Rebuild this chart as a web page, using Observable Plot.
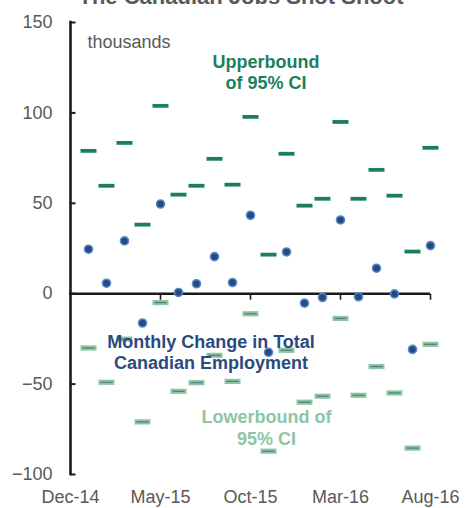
<!DOCTYPE html>
<html>
<head>
<meta charset="utf-8">
<script src="https://cdn.jsdelivr.net/npm/d3@7"></script>
<script src="https://cdn.jsdelivr.net/npm/@observablehq/plot@0.6"></script>
<style>
  html, body { margin: 0; padding: 0; background: #fff; }
  #chart { width: 465px; height: 508px; overflow: hidden; }
</style>
</head>
<body>
<div id="chart"></div>
<script>
// ---- data ----
const title = "The Canadian Jobs Shot Shoot";
const startLabel = "Dec-14";
const months = ["Jan-15","Feb-15","Mar-15","Apr-15","May-15","Jun-15","Jul-15","Aug-15","Sep-15","Oct-15","Nov-15","Dec-15",
                "Jan-16","Feb-16","Mar-16","Apr-16","May-16","Jun-16","Jul-16","Aug-16"];
const change = [24.6, 5.8, 29.2, -16.2, 49.6, 0.7, 5.5, 20.5, 6.2, 43.4, -32.4, 23.1, -5.2, -2.1, 40.8, -1.7, 14.1, -0.1, -30.8, 26.6];
const upper  = [79.0, 59.7, 83.4, 38.2, 103.9, 54.8, 59.7, 74.6, 60.3, 97.8, 21.6, 77.4, 48.7, 52.5, 95.0, 52.5, 68.5, 54.2, 23.3, 80.7];
const lower  = [-30.0, -49.0, -25.1, -70.9, -4.9, -54.0, -49.2, -34.1, -48.5, -11.1, -87.1, -31.3, -60.0, -56.7, -13.7, -56.2, -40.3, -54.9, -85.4, -28.0];
const xTickLabels = ["Dec-14","May-15","Oct-15","Mar-16","Aug-16"];
const yTicks = [-100, -50, 0, 50, 100, 150];
const unitLabel = "thousands";
const upperLabel = "Upperbound\nof 95% CI";
const changeLabel = "Monthly Change in Total\nCanadian Employment";
const lowerLabel = "Lowerbound of\n95% CI";

// ---- build ----
const xDomain = [startLabel].concat(months);
const rows = months.map((m, i) => ({month: m, change: change[i], upper: upper[i], lower: lower[i]}));

const upperDash = {draw(c) { c.rect(-8, -1.9, 16, 3.8); }};
const lowerDashOuter = {draw(c) { c.rect(-8, -2.6, 16, 5.2); }};
const lowerDashInner = {draw(c) { c.rect(-6, -0.6, 12, 1.2); }};
const tickRight = {draw(c) { c.moveTo(0, 0); c.lineTo(5, 0); }};
const tickDown = {draw(c) { c.moveTo(0, 0); c.lineTo(0, 6); }};

const font = "'Liberation Sans', Arial, sans-serif";

const chart = Plot.plot({
  width: 465,
  height: 508,
  marginLeft: 69,
  marginRight: 35,
  marginTop: 22,
  marginBottom: 34,
  style: {fontFamily: font, fontSize: "18px", color: "#595959", background: "white", overflow: "visible"},
  x: {type: "point", domain: xDomain, padding: 0},
  y: {domain: [yTicks[0], yTicks[yTicks.length - 1]]},
  marks: [
    Plot.axisX({ticks: xTickLabels, tickSize: 0, tickPadding: 16, label: null, fill: "#595959", fontSize: 18}),
    Plot.axisY({ticks: yTicks, tickSize: 0, tickPadding: 17, label: null, fill: "#595959", fontSize: 18}),
    // lower bound dashes
    Plot.dot(rows, {x: "month", y: "lower", symbol: lowerDashOuter, fill: "#8cc5a3", stroke: "none"}),
    Plot.dot(rows, {x: "month", y: "lower", symbol: lowerDashInner, fill: "#4f8072", stroke: "none"}),
    // upper bound dashes
    Plot.dot(rows, {x: "month", y: "upper", symbol: upperDash, fill: "#1b7f5f", stroke: "none"}),
    // zero line and axis
    Plot.ruleY([0], {stroke: "#1a1a1a", strokeWidth: 2.5}),
    Plot.dot(xTickLabels.slice(1), {x: d => d, y: d => 0, symbol: tickDown, fill: "none", stroke: "#1a1a1a", strokeWidth: 1.6}),
    Plot.ruleX([startLabel], {x: d => d, stroke: "#1a1a1a", strokeWidth: 2.6, strokeLinecap: "square"}),
    Plot.dot(yTicks, {x: d => startLabel, y: d => d, symbol: tickRight, fill: "none", stroke: "#1a1a1a", strokeWidth: 2}),
    // annotations
    Plot.text([unitLabel], {text: d => d, frameAnchor: "top-left", dx: 18, dy: 13, lineAnchor: "top", textAnchor: "start", fill: "#595959", fontSize: 18}),
    Plot.text([upperLabel], {text: d => d, frameAnchor: "top-left", dx: 196.5, dy: 31.2, lineAnchor: "top", textAnchor: "middle", fill: "#1b7f5f", fontSize: 18, fontWeight: "bold", lineHeight: 1.15}),
    Plot.text([changeLabel], {text: d => d, frameAnchor: "top-left", dx: 141.5, dy: 310.9, lineAnchor: "top", textAnchor: "middle", fill: "#2a4a7f", fontSize: 18, fontWeight: "bold", lineHeight: 1.17}),
    Plot.text([lowerLabel], {text: d => d, frameAnchor: "top-left", dx: 197, dy: 384.7, lineAnchor: "top", textAnchor: "middle", fill: "#8cc6a3", fontSize: 18, fontWeight: "bold", lineHeight: 1.22}),
    // monthly change points
    Plot.dot(rows, {x: "month", y: "change", r: 4, fill: "#244a83", stroke: "#5a86c3", strokeWidth: 1.6})
  ]
});

d3.select(chart).append("text")
  .attr("x", 241).attr("y", 4)
  .attr("text-anchor", "middle")
  .attr("font-family", font)
  .attr("font-size", 22)
  .attr("font-weight", "bold")
  .attr("fill", "#595959")
  .text(title);

document.getElementById("chart").append(chart);
</script>
</body>
</html>
